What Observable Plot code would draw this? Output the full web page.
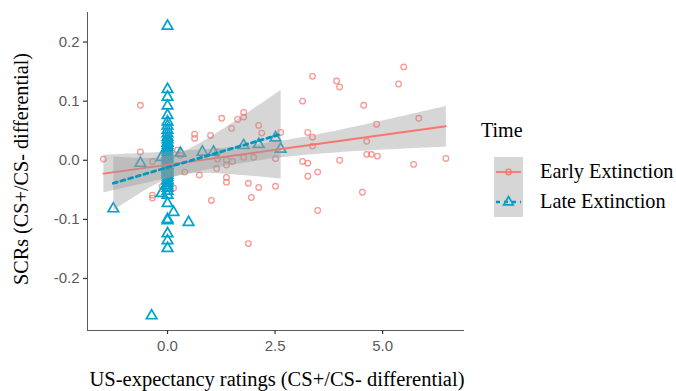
<!DOCTYPE html>
<html><head><meta charset="utf-8">
<script src="https://cdn.jsdelivr.net/npm/d3@7"></script>
<script src="https://cdn.jsdelivr.net/npm/@observablehq/plot@0.6"></script>
<style>body{margin:0;background:#fff} #chart{position:relative;width:676px;height:391px}</style>
</head><body><div id="chart"></div>
<script>
const groups = ["Early Extinction", "Late Extinction"];
const colors = ["#F8766D", "#00A3CC"];
const legendTitle = "Time";
const xTitle = "US-expectancy ratings (CS+/CS- differential)";
const yTitle = "SCRs (CS+/CS- differential)";
const xTicks = [0, 2.5, 5];
const yTicks = [-0.2, -0.1, 0, 0.1, 0.2];

const earlyX = [-1.49,-0.63,-0.63,-0.35,-0.35,-0.35,-0.12,0.14,0.23,0.30,0.40,0.63,0.63,0.74,1.00,1.02,1.16,1.16,1.14,1.26,1.37,1.37,1.37,1.37,1.49,1.51,1.63,1.77,1.77,1.77,1.88,1.88,1.95,2.00,2.12,2.12,2.19,2.51,2.51,2.63,3.14,3.14,3.26,3.26,3.26,3.37,3.37,3.37,3.49,3.49,3.93,4.00,4.00,4.53,4.56,4.63,4.63,4.74,4.88,4.86,5.37,5.49,5.72,5.84,6.47];
const earlyY = [0.002,0.093,0.014,-0.002,-0.059,-0.064,-0.044,-0.047,0.017,0.008,-0.020,0.044,0.037,-0.025,0.042,-0.068,0.014,0.002,-0.014,0.071,0.000,-0.008,-0.029,-0.037,0.054,-0.002,0.069,0.081,0.073,0.005,-0.039,-0.141,-0.063,0.005,0.059,-0.046,0.046,0.003,-0.044,0.047,0.100,-0.002,0.047,-0.005,-0.027,0.142,0.039,0.024,-0.020,-0.085,0.134,0.124,0.000,-0.054,0.093,0.032,0.010,0.010,0.007,0.061,0.129,0.158,-0.007,0.071,0.003];

const lateX = [0,0,0,0,0,0,0,0,0,0,0,0,0,0,0,0,0,0,0,0,0,0,0,0,0,0,0,0,0,0,0,0,0,0,0,0,0,0,0,0,0,0,0,0,0,0,-0.14,0.14,0.49,-0.37,-1.26,-0.63,-0.14,0.30,0.81,1.07,1.77,2.12,2.51,2.63];
const lateY = [0.227,0.120,0.107,0.092,0.076,0.065,0.058,0.051,0.039,0.029,0.022,0.014,0.005,-0.005,-0.010,-0.017,-0.029,-0.039,-0.047,-0.059,-0.073,-0.100,-0.102,-0.124,-0.136,-0.149,0.045,0.035,0.030,0.018,0.010,0.000,-0.003,-0.008,-0.013,-0.020,-0.025,-0.033,-0.043,-0.052,0.003,-0.015,-0.022,0.008,-0.035,0.025,-0.056,-0.088,-0.105,-0.263,-0.082,-0.005,0.005,0.012,0.014,0.014,0.025,0.027,0.038,0.019];

const early = earlyX.map((x, i) => ({x, y: earlyY[i]}));
const late = lateX.map((x, i) => ({x, y: lateY[i]}));
const fmt = d => d.toFixed(1);

const plot = Plot.plot({
  width: 676, height: 391,
  marginLeft: 87, marginRight: 213, marginTop: 12, marginBottom: 61,
  style: {background: "#fff", fontFamily: "'Liberation Sans', Arial, sans-serif", fontSize: "15px", color: "#5a5a5a"},
  x: {domain: [-1.86, 6.88], ticks: xTicks, tickFormat: fmt, tickSize: 4, tickPadding: 6, label: null, line: true},
  y: {domain: [-0.288, 0.25], ticks: yTicks, tickFormat: fmt, tickSize: 4, tickPadding: 4, label: null, line: true},
  marks: [
    Plot.dot(early, {x: "x", y: "y", r: 2.8, symbol: "circle", stroke: colors[0], strokeWidth: 1.3, strokeOpacity: 0.75}),
    Plot.dot(late, {x: "x", y: "y", r: 3.9, symbol: "triangle", stroke: colors[1], strokeWidth: 1.7}),
    Plot.linearRegressionY(early, {x: "x", y: "y", stroke: colors[0], strokeWidth: 1.8, fill: "#999999", fillOpacity: 0.4}),
    Plot.linearRegressionY(late, {x: "x", y: "y", stroke: "#0096BD", strokeWidth: 2.8, strokeDasharray: "4,4", fill: "#999999", fillOpacity: 0.4})
  ]
});
document.getElementById("chart").appendChild(plot);

const svg = d3.select(plot);
svg.selectAll("[aria-label='x-axis line'], [aria-label='y-axis line'], [aria-label='x-axis tick'], [aria-label='y-axis tick']")
  .attr("stroke", "#333").attr("stroke-width", 1.2);

const serif = "'Liberation Serif', 'Times New Roman', serif";
svg.append("text").attr("x", 277).attr("y", 386).attr("text-anchor", "middle")
  .attr("font-family", serif).attr("font-size", 20.5).attr("fill", "#000").text(xTitle);
svg.append("text").attr("transform", "translate(28,169) rotate(-90)").attr("text-anchor", "middle")
  .attr("font-family", serif).attr("font-size", 20.2).attr("fill", "#000").text(yTitle);

const lg = svg.append("g").attr("font-family", serif).attr("fill", "#000").attr("text-anchor", "start");
lg.append("text").attr("x", 481).attr("y", 137).attr("font-size", 20).text(legendTitle);
groups.forEach((g, i) => {
  const cy = 172 + i * 30;
  lg.append("rect").attr("x", 494).attr("y", cy - 15).attr("width", 29).attr("height", 30).attr("fill", "#d6d6d6");
  lg.append("line").attr("x1", 496).attr("x2", 521).attr("y1", cy).attr("y2", cy)
    .attr("stroke", i ? "#0096BD" : colors[0]).attr("stroke-width", i ? 2.6 : 1.8)
    .attr("stroke-dasharray", i ? "4,4" : null);
  if (i === 0) {
    lg.append("circle").attr("cx", 508.5).attr("cy", cy).attr("r", 2.8).attr("fill", "none")
      .attr("stroke", colors[0]).attr("stroke-width", 1.3);
  } else {
    lg.append("path").attr("d", d3.symbol(d3.symbolTriangle, 40)()).attr("transform", `translate(508.5,${cy})`)
      .attr("fill", "none").attr("stroke", colors[1]).attr("stroke-width", 1.7);
  }
  lg.append("text").attr("x", 540).attr("y", cy + 6).attr("font-size", 20.3).text(g);
});
</script>
</body></html>
